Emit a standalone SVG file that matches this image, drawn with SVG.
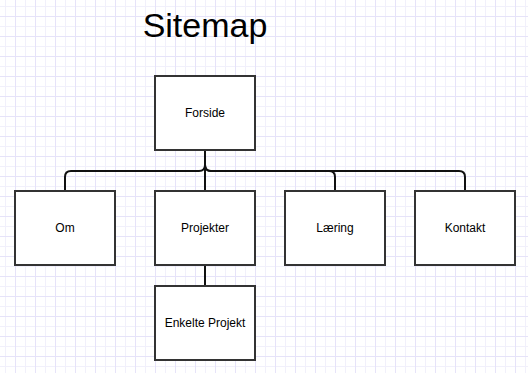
<svg xmlns="http://www.w3.org/2000/svg" width="528" height="373" viewBox="0 0 528 373">
  <style>
    .box { fill: #ffffff; stroke: #333333; stroke-width: 2; }
    .lbl { font-family: "Liberation Sans", Arial, Helvetica, sans-serif; font-size: 12px; fill: #000000; text-anchor: middle; dominant-baseline: central; }
    .title { font-family: "Liberation Sans", Arial, Helvetica, sans-serif; font-size: 34px; fill: #000000; text-anchor: middle; }
    .edge { fill: none; stroke: #111111; stroke-width: 2; }
  </style>
  <defs>
    <pattern id="grid" x="5" y="6" width="20" height="20" patternUnits="userSpaceOnUse">
      <rect x="0" y="0" width="20" height="20" fill="#ffffff"/>
      <rect x="0" y="0" width="1" height="20" fill="#f1f0fb"/>
      <rect x="0" y="0" width="20" height="1" fill="#f1f0fb"/>
      <rect x="10" y="0" width="1" height="20" fill="#e6e3f9"/>
      <rect x="0" y="10" width="20" height="1" fill="#e6e3f9"/>
    </pattern>
  </defs>

  <rect x="0" y="0" width="528" height="373" fill="url(#grid)"/>

  <text class="title" x="205" y="37">Sitemap</text>

  <g id="connectors">
    <path class="edge" d="M205,150 V165 Q205,171 199,171 H71 Q65,171 65,177 V191"/>
    <path class="edge" d="M205,150 V191"/>
    <path class="edge" d="M205,150 V165 Q205,171 211,171 H329 Q335,171 335,177 V191"/>
    <path class="edge" d="M205,150 V165 Q205,171 211,171 H459 Q465,171 465,177 V191"/>
    <path class="edge" d="M205,265 V286"/>
  </g>

  <g id="forside">
    <rect class="box" x="155" y="76" width="100" height="74"/>
    <text class="lbl" x="205" y="113">Forside</text>
  </g>
  <g id="om">
    <rect class="box" x="15" y="191" width="100" height="74"/>
    <text class="lbl" x="65" y="228">Om</text>
  </g>
  <g id="projekter">
    <rect class="box" x="155" y="191" width="100" height="74"/>
    <text class="lbl" x="205" y="228">Projekter</text>
  </g>
  <g id="laering">
    <rect class="box" x="285" y="191" width="100" height="74"/>
    <text class="lbl" x="335" y="228">Læring</text>
  </g>
  <g id="kontakt">
    <rect class="box" x="415" y="191" width="100" height="74"/>
    <text class="lbl" x="465" y="228">Kontakt</text>
  </g>
  <g id="enkelte-projekt">
    <rect class="box" x="155" y="286" width="100" height="74"/>
    <text class="lbl" x="205" y="323">Enkelte Projekt</text>
  </g>
</svg>
